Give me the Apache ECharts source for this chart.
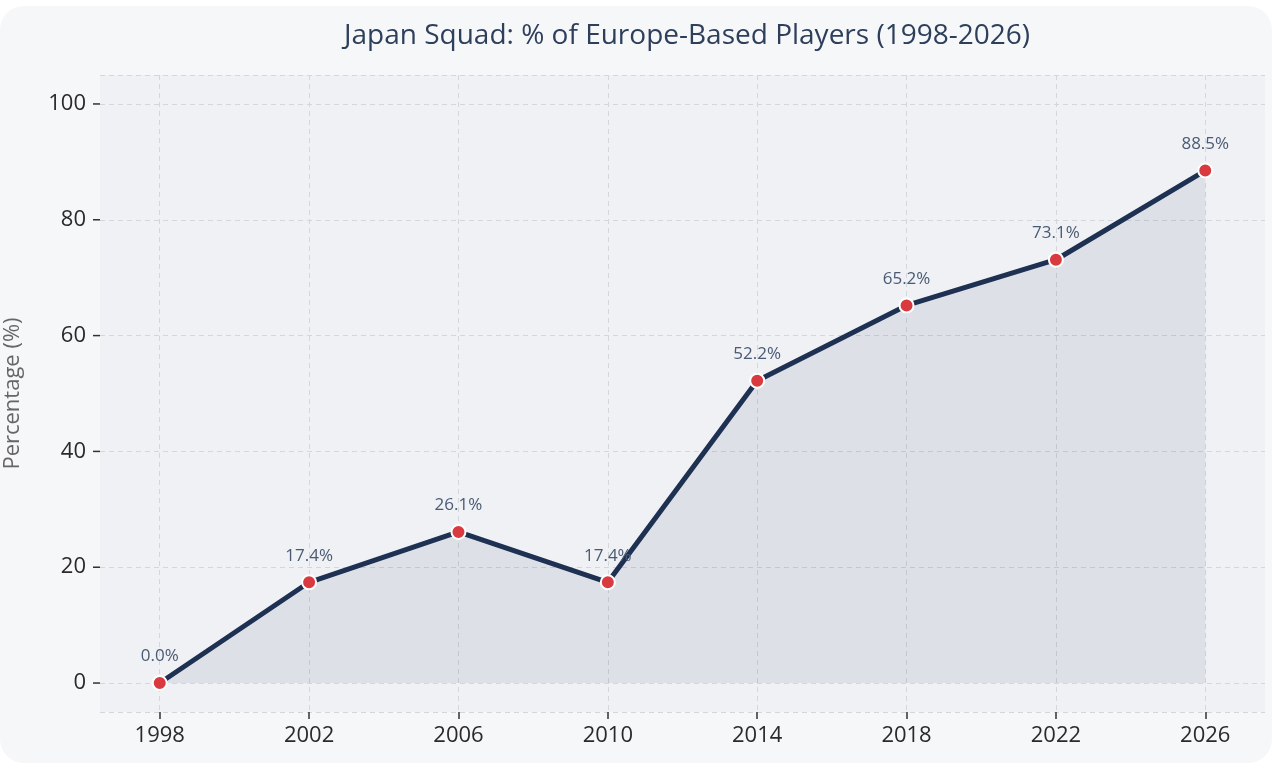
<!DOCTYPE html>
<html>
<head>
<meta charset="utf-8">
<title>Japan Squad: % of Europe-Based Players</title>
<script src="https://cdn.jsdelivr.net/npm/echarts@6/dist/echarts.min.js"></script>
<style>
  html, body { margin: 0; padding: 0; background: #ffffff; }
  #card {
    position: absolute; left: 0; top: 6px; width: 1272px; height: 757px;
    background: #f6f7f8; border-radius: 24px;
  }
  #chart { position: absolute; left: 0; top: 0; width: 1277px; height: 772px; }
</style>
</head>
<body>
<div id="card"></div>
<div id="chart"></div>
<script>
// data
const years = [1998, 2002, 2006, 2010, 2014, 2018, 2022, 2026]
const europePct = [0.0, 17.4, 26.1, 17.4, 52.2, 65.2, 73.1, 88.5]
const yTicks = [0, 20, 40, 60, 80, 100]

const FONT = '"Open Sans", sans-serif'

const chart = echarts.init(document.getElementById('chart'), null, { renderer: 'canvas' })

const option = {
  animation: false,
  backgroundColor: 'transparent',
  textStyle: { fontFamily: FONT },
  title: {
    text: 'Japan Squad: % of Europe-Based Players (1998-2026)',
    left: 682,
    textAlign: 'center',
    top: 17,
    textStyle: { fontFamily: FONT, fontSize: 28, fontWeight: 'normal', color: '#2e3f5c' }
  },
  grid: {
    left: 100, top: 75, width: 1165, height: 637,
    outerBoundsMode: 'none',
    containLabel: false,
    show: true, backgroundColor: '#eff1f4', borderWidth: 0
  },
  xAxis: {
    type: 'value',
    min: 1996.4,
    max: 2027.6,
    axisLine: { show: true, onZero: false, lineStyle: { color: 'rgba(0,0,0,0)' } },
    axisTick: { show: true, inside: false, customValues: years, length: 7, lineStyle: { color: '#333', width: 1.5 } },
    axisLabel: {
      customValues: years, margin: 13, fontSize: 22, color: '#2a2a2a', fontFamily: FONT,
      formatter: v => String(v)
    },
    splitLine: { show: true, lineStyle: { color: '#d3d6db', type: [5, 4], width: 1 } }
  },
  yAxis: {
    type: 'value',
    min: -5,
    max: 105,
    name: 'Percentage (%)',
    nameLocation: 'middle',
    nameGap: 76,
    nameTextStyle: { fontSize: 22, color: '#666', fontFamily: FONT },
    axisLine: { show: true, onZero: false, lineStyle: { color: 'rgba(0,0,0,0)' } },
    axisTick: { show: false },
    axisLabel: {
      customValues: yTicks,
      margin: 0,
      color: '#2a2a2a',
      fontFamily: FONT,
      // 数字 + 间隔 + 小刻度线
      formatter: v => '{n|' + v + '}{g|}{t|}',
      rich: {
        n: { fontSize: 22, color: '#2a2a2a', fontFamily: FONT },
        g: { width: 7, height: 2 },
        t: { width: 7, height: 1.5, backgroundColor: '#333' }
      }
    },
    splitLine: { show: true, lineStyle: { color: '#d3d6db', type: [5, 4], width: 1 } }
  },
  series: [{
    type: 'line',
    data: years.map((y, i) => [y, europePct[i]]),
    symbol: 'circle',
    symbolSize: 14,
    lineStyle: { color: '#1e3152', width: 5 },
    itemStyle: { color: '#d93a3f', borderColor: '#ffffff', borderWidth: 2 },
    areaStyle: { color: 'rgba(30, 49, 82, 0.12)', origin: 0 },
    label: {
      show: true,
      position: 'top',
      distance: 10,
      fontSize: 17,
      color: '#4a5a74',
      fontFamily: FONT,
      formatter: p => p.value[1].toFixed(1) + '%'
    },
    emphasis: { disabled: true },
    z: 3
  }]
}

chart.setOption(option)
</script>
</body>
</html>
